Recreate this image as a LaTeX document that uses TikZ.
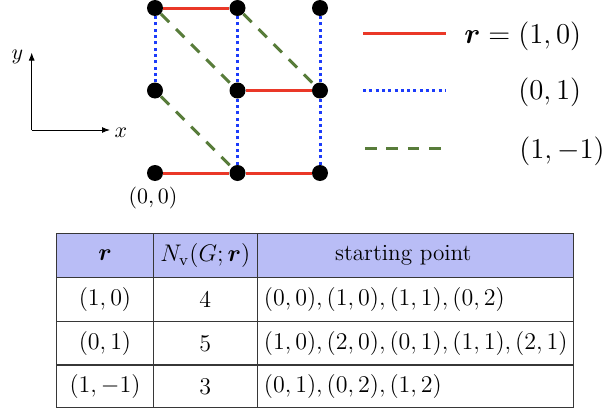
\documentclass[tikz,border=0pt]{standalone}
\usepackage{amsmath}
\usetikzlibrary{arrows.meta}
\definecolor{edgered}{RGB}{234,56,40}
\definecolor{edgeblue}{RGB}{28,60,250}
\definecolor{edgegreen}{RGB}{88,124,58}
\definecolor{headfill}{RGB}{185,189,246}
\definecolor{rulegray}{RGB}{55,55,55}
\begin{document}
\begin{tikzpicture}[x=0.5pt,y=-0.5pt,
 vert/.style={circle,fill=black,inner sep=0pt,minimum size=8pt},
 redline/.style={draw=edgered,line width=1.5pt},
 blueline/.style={draw=edgeblue,line width=1.5pt,dash pattern=on 1.5pt off 1.65pt},
 greenline/.style={draw=edgegreen,line width=1.5pt,dash pattern=on 5.8pt off 4.9pt},
 legtext/.style={anchor=west,inner sep=0pt,font=\fontsize{14}{16}\selectfont},
 tabtext/.style={inner sep=0pt,font=\fontsize{11.6}{14}\selectfont},
 lbl/.style={inner sep=0pt,font=\fontsize{11}{13}\selectfont},
 gridline/.style={draw=rulegray,line width=0.6pt},
 axisarrow/.style={draw=black,line width=0.5pt,-{Latex[length=4pt,width=3pt]}}
]
\useasboundingbox (0,0) rectangle (606,412);

% lattice vertices
\node[vert] (v00) at (155,173) {};
\node[vert] (v10) at (237.5,173) {};
\node[vert] (v20) at (320,173) {};
\node[vert] (v01) at (155,90.5) {};
\node[vert] (v11) at (237.5,90.5) {};
\node[vert] (v21) at (320,90.5) {};
\node[vert] (v02) at (155,8) {};
\node[vert] (v12) at (237.5,8) {};
\node[vert] (v22) at (320,8) {};

% r = (1,0)
\draw[redline] (v00) -- (v10);
\draw[redline] (v10) -- (v20);
\draw[redline] (v11) -- (v21);
\draw[redline] (v02) -- (v12);
% r = (0,1)
\draw[blueline] (v10) -- (v11);
\draw[blueline] (v20) -- (v21);
\draw[blueline] (v01) -- (v02);
\draw[blueline] (v11) -- (v12);
\draw[blueline] (v21) -- (v22);
% r = (1,-1)
\draw[greenline] (v01) -- (v10);
\draw[greenline] (v02) -- (v11);
\draw[greenline] (v12) -- (v21);

\node[lbl] (orig) at (153,198) {$(0,0)$};

% axes
\coordinate (ax0) at (31.7,130);
\coordinate (axy) at (31.7,52.5);
\coordinate (axx) at (110,130);
\draw[axisarrow] (ax0) -- (axy);
\draw[axisarrow] (ax0) -- (axx);
\node[lbl,font=\fontsize{10.5}{12}\selectfont] (ylab) at (17.5,57) {$y$};
\node[lbl,font=\fontsize{10.5}{12}\selectfont] (xlab) at (120.8,132.5) {$x$};

% legend
\coordinate (lr1) at (363,33.3);
\coordinate (lr2) at (446,33.3);
\coordinate (lb1) at (363,90.7);
\coordinate (lb2) at (446,90.7);
\coordinate (lg1) at (365,148);
\coordinate (lg2) at (444,148);
\draw[redline] (lr1) -- (lr2);
\draw[blueline] (lb1) -- (lb2);
\draw[greenline] (lg1) -- (lg2);
\node[legtext] (t1) at (518,36) {\llap{$\boldsymbol{r}={}$}$(1,0)$};
\node[legtext] (t2) at (518,92) {$(0,1)$};
\node[legtext] (t3) at (519,151) {$(1,-1)$};

% table
\fill[headfill] (56.7,233.3) rectangle (573.3,277.7);
\draw[gridline] (56.7,233.3) rectangle (573.3,407.7);
\draw[gridline] (56.7,277.7) -- (573.3,277.7);
\draw[gridline] (56.7,321.7) -- (573.3,321.7);
\draw[gridline] (56.7,365) -- (573.3,365);
\draw[gridline] (153.3,233.3) -- (153.3,407.7);
\draw[gridline] (257.3,233.3) -- (257.3,407.7);

\node[tabtext] (h1) at (105,255.5) {$\boldsymbol{r}$};
\node[tabtext] (h2) at (205.3,255.5) {$N_{\mathrm{v}}(G;\boldsymbol{r})$};
\node[tabtext] (h3) at (403.3,255.5) {starting point};

\node[tabtext] (a1) at (105,299.7) {$(1,0)$};
\node[tabtext] (a2) at (205.3,299.7) {$4$};
\node[tabtext,anchor=west] (a3) at (263.5,299.7) {$(0,0),(1,0),(1,1),(0,2)$};

\node[tabtext] (b1) at (105,343.3) {$(0,1)$};
\node[tabtext] (b2) at (205.3,343.3) {$5$};
\node[tabtext,anchor=west] (b3) at (263.5,343.3) {$(1,0),(2,0),(0,1),(1,1),(2,1)$};

\node[tabtext] (c1) at (105,386.3) {$(1,-1)$};
\node[tabtext] (c2) at (205.3,386.3) {$3$};
\node[tabtext,anchor=west] (c3) at (263.5,386.3) {$(0,1),(0,2),(1,2)$};
\end{tikzpicture}
\end{document}
